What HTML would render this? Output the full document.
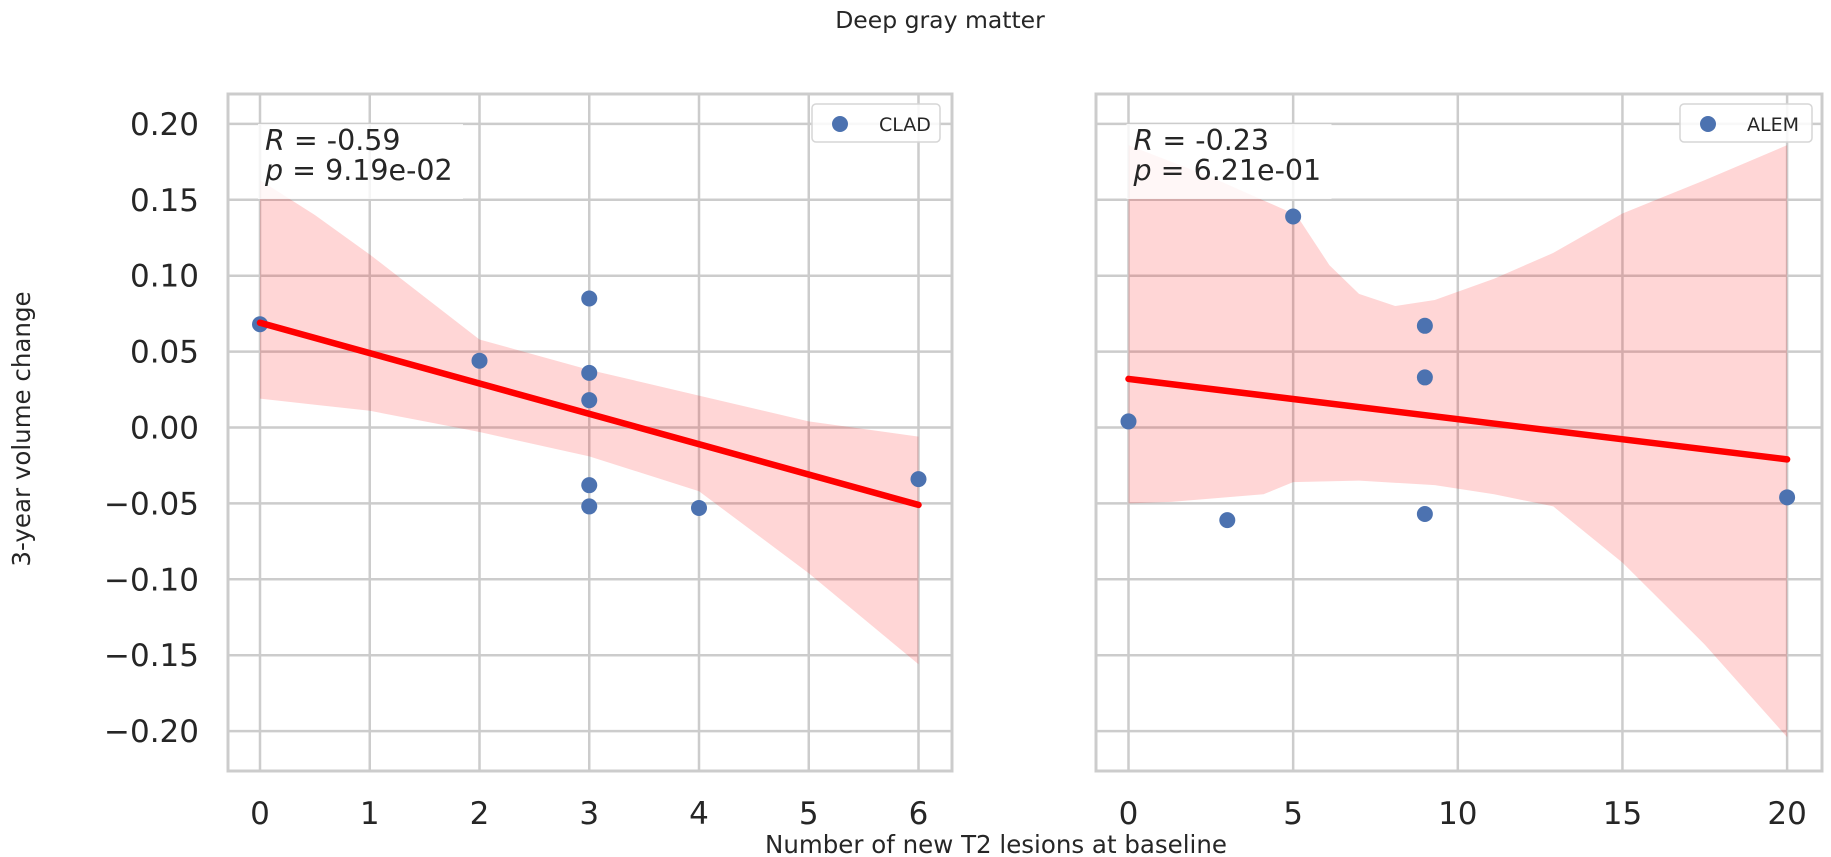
<!DOCTYPE html>
<html><head><meta charset="utf-8"><style>
html,body{margin:0;padding:0;background:#fff;}
svg{display:block;font-family:"DejaVu Sans","Liberation Sans",sans-serif;}
</style></head><body>
<svg id="chart" width="1831" height="857" viewBox="0 0 1831 857" xmlns="http://www.w3.org/2000/svg">
<text x="940" y="28" text-anchor="middle" font-size="23.5" fill="#262626">Deep gray matter</text>
<text x="996" y="853" text-anchor="middle" font-size="24.5" fill="#262626">Number of new T2 lesions at baseline</text>
<text transform="translate(30,429) rotate(-90)" text-anchor="middle" font-size="24.5" fill="#262626">3-year volume change</text>
<g id="panels"></g>
</svg>
<script>
const yTicks = [0.20,0.15,0.10,0.05,0.00,-0.05,-0.10,-0.15,-0.20];
const leftXTicks = [0,1,2,3,4,5,6];
const rightXTicks = [0,5,10,15,20];
const leftX = [0,2,3,3,3,3,3,4,6];
const leftY = [0.068,0.044,0.085,0.036,0.018,-0.038,-0.052,-0.053,-0.034];
const rightX = [0,3,5,9,9,9,20];
const rightY = [0.004,-0.061,0.139,0.067,0.033,-0.057,-0.046];
const leftFitX = [0,6];
const leftFitY = [0.069,-0.051];
const rightFitX = [0,20];
const rightFitY = [0.032,-0.021];
const leftBandX = [0,0.5,1,1.5,2,3,4,5,6];
const leftBandUpper = [0.163,0.14,0.114,0.086,0.058,0.038,0.021,0.004,-0.006];
const leftBandLower = [0.019,0.015,0.011,0.004,-0.003,-0.019,-0.042,-0.096,-0.156];
const rightBandX = [0,2.6,5.1,6.1,7,8.1,9.3,11.1,12.9,15,17.5,20];
const rightBandUpper = [0.186,0.164,0.140,0.107,0.088,0.080,0.084,0.098,0.115,0.141,0.163,0.186];
const rightBandLowerX = [0,1.3,4.1,5,7,9.3,11.1,12.9,15,17.5,20];
const rightBandLower = [-0.050,-0.049,-0.044,-0.036,-0.035,-0.038,-0.044,-0.052,-0.089,-0.143,-0.204];
const stats = [["R = -0.59","p = 9.19e-02"],["R = -0.23","p = 6.21e-01"]];
const legends = ["CLAD","ALEM"];

const NS="http://www.w3.org/2000/svg";
const root=document.getElementById('panels');
function mk(tag,attrs,parent){const e=document.createElementNS(NS,tag);for(const k in attrs)e.setAttribute(k,attrs[k]);(parent||root).appendChild(e);return e;}
const yScale=v=>427.5-(v/0.05)*75.9;

const panels=[
 {x0:228,x1:952,xs:v=>260+v*109.75,xt:leftXTicks,px:leftX,py:leftY,fx:leftFitX,fy:leftFitY,bx:leftBandX,bu:leftBandUpper,blx:leftBandX,bl:leftBandLower,key:'left',leg:[812,940]},
 {x0:1096,x1:1822,xs:v=>1128.5+v*32.93,xt:rightXTicks,px:rightX,py:rightY,fx:rightFitX,fy:rightFitY,bx:rightBandX,bu:rightBandUpper,blx:rightBandLowerX,bl:rightBandLower,key:'right',leg:[1680,1812]}
];
panels.forEach((p,i)=>{
 const g=mk('g',{});
 
 
 yTicks.forEach(t=>{const l=mk('line',{x1:p.x0,x2:p.x1,y1:yScale(t),y2:yScale(t),stroke:'#cccccc','stroke-width':2.5},g);
  
  
  if(i===0){const tx=mk('text',{x:199,y:yScale(t)+11,'text-anchor':'end','font-size':31,fill:'#262626'},g);
   tx.textContent=(t<0?'\u2212':'')+Math.abs(t).toFixed(2);
   
   }
 });
 p.xt.forEach(t=>{const l=mk('line',{x1:p.xs(t),x2:p.xs(t),y1:94,y2:771,stroke:'#cccccc','stroke-width':2.5},g);
  
  
  const tx=mk('text',{x:p.xs(t),y:824,'text-anchor':'middle','font-size':31,fill:'#262626'},g);
  tx.textContent=String(t);
  
  
 });
 let d='';
 p.bx.forEach((x,k)=>{d+=(k?'L':'M')+p.xs(x)+','+yScale(p.bu[k]);});
 for(let k=p.blx.length-1;k>=0;k--){d+='L'+p.xs(p.blx[k])+','+yScale(p.bl[k]);}
 const band=mk('path',{d:d+'Z',fill:'rgba(255,0,0,0.16)','stroke-linejoin':'round'},g);
 
 
 p.px.forEach((x,k)=>{const c=mk('circle',{cx:p.xs(x),cy:yScale(p.py[k]),r:8,fill:'#4c72b0'},g);
  
  });
 const fl=mk('line',{x1:p.xs(p.fx[0]),y1:yScale(p.fy[0]),x2:p.xs(p.fx[1]),y2:yScale(p.fy[1]),stroke:'#ff0000','stroke-width':6.5,'stroke-linecap':'round'},g);
 
 
 const fr=mk('rect',{x:p.x0,y:94,width:p.x1-p.x0,height:677,fill:'none',stroke:'#cccccc','stroke-width':3},g);
 
 
 const sx=p.xs(0);
 const bg=mk('rect',{x:sx-2,y:124,width:205,height:75,fill:'rgba(255,255,255,0.8)'},g);
 
 
 stats[i].forEach((s,k)=>{const t=mk('text',{x:sx+5,y:150+k*30,'font-size':28.5,fill:'#262626'},g);
  const parts=s.split(' = ');
  const it=mk('tspan',{'font-style':'italic'},t);it.textContent=parts[0];
  const rest=mk('tspan',{},t);rest.textContent=' = '+parts[1];
  
  });
 const lg=mk('g',{},g);
 
 
 mk('rect',{x:p.leg[0],y:104,width:p.leg[1]-p.leg[0],height:38,rx:4,fill:'rgba(255,255,255,0.85)',stroke:'#d6d6d6','stroke-width':1.5},lg);
 const lm=mk('circle',{cx:p.leg[0]+28,cy:124,r:8,fill:'#4c72b0'},lg);
 
 
 const lt=mk('text',{x:p.leg[0]+67,y:131,'font-size':19,fill:'#262626'},lg);
 lt.textContent=legends[i];
 
 
});
</script>
</body></html>
